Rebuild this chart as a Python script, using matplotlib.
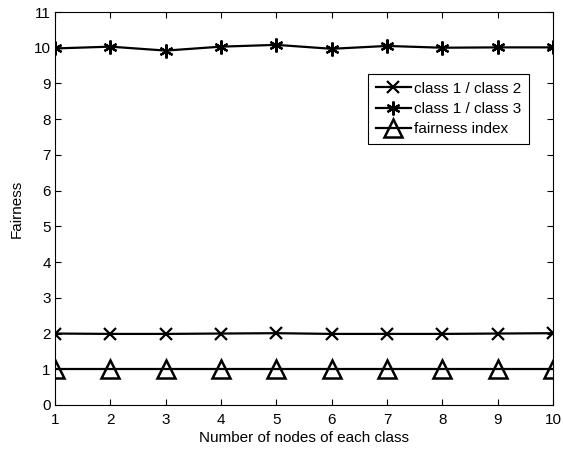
import matplotlib
matplotlib.use("Agg")
import matplotlib.pyplot as plt

plt.rcParams['font.family'] = ['Liberation Sans', 'DejaVu Sans']

nodes = [1, 2, 3, 4, 5, 6, 7, 8, 9, 10]
class12 = [2.00, 1.99, 1.99, 2.00, 2.01, 1.99, 1.99, 1.99, 2.00, 2.01]
class13 = [9.98, 10.03, 9.92, 10.03, 10.08, 9.97, 10.05, 10.00, 10.01, 10.01]
fairness = [1.00, 1.00, 1.00, 1.00, 1.00, 1.00, 1.00, 1.00, 1.00, 1.00]
xticks = list(range(1, 11))
yticks = list(range(0, 12))

fig = plt.figure(figsize=(5.63, 4.49), dpi=100)
ax = fig.add_axes([55/563, 1-405/449, (553-55)/563, (405-12)/449])

ax.plot(nodes, class12, color='black', lw=1.6, marker='x', ms=8, mew=1.6, label='class 1 / class 2')
ax.plot(nodes, class13, color='black', lw=1.6, marker=(6, 2, 0), ms=10, mew=1.6, label='class 1 / class 3')
ax.plot(nodes, fairness, color='black', lw=1.6, marker='^', ms=13, mew=1.8, mfc='none', label='fairness index')

ax.set_xlim(1, 10)
ax.set_ylim(0, 11)
ax.set_xticks(xticks)
ax.set_yticks(yticks)
ax.tick_params(direction='in', length=4, width=0.8, labelsize=11, top=True, right=True, pad=3)
ax.tick_params(axis='x', pad=6)
for s in ax.spines.values():
    s.set_linewidth(0.8)
ax.set_xlabel('Number of nodes of each class', fontsize=11, labelpad=3)
ax.set_ylabel('Fairness', fontsize=11, labelpad=7)

leg = ax.legend(loc='upper left', bbox_to_anchor=((368-55)/498, (405-74)/393), fontsize=11,
                frameon=True, fancybox=False, edgecolor='black', framealpha=1,
                handlelength=2.3, handletextpad=0.2, borderpad=0.5, labelspacing=0.42, borderaxespad=0)
leg.get_frame().set_linewidth(0.8)

fig.savefig('out.png', dpi=100)
